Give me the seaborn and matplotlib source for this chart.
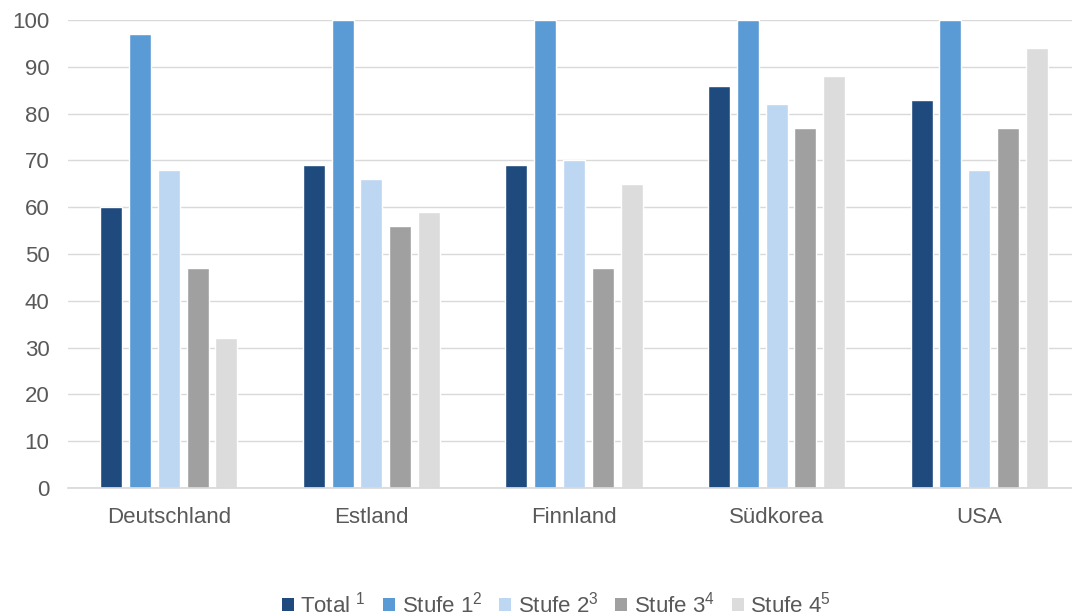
import matplotlib
matplotlib.use("Agg")
import matplotlib.pyplot as plt
import seaborn as sns
import pandas as pd

countries = ["Deutschland", "Estland", "Finnland", "Südkorea", "USA"]
series = ["Total", "Stufe 1", "Stufe 2", "Stufe 3", "Stufe 4"]
legend_labels = ["Total $^{1}$", "Stufe 1$^{2}$", "Stufe 2$^{3}$", "Stufe 3$^{4}$", "Stufe 4$^{5}$"]
total = [60, 69, 69, 86, 83]
stufe1 = [97, 100, 100, 100, 100]
stufe2 = [68, 66, 70, 82, 68]
stufe3 = [47, 56, 47, 77, 77]
stufe4 = [32, 59, 65, 88, 94]
colors = ["#1F4A7D", "#5B9BD5", "#BDD6F2", "#A0A0A0", "#DCDCDC"]

rows = []
for s, vals in zip(series, [total, stufe1, stufe2, stufe3, stufe4]):
    for c, v in zip(countries, vals):
        rows.append({"Land": c, "Serie": s, "Wert": v})
df = pd.DataFrame(rows)

sns.set_theme(style="white")
plt.rcParams["font.family"] = ["Liberation Sans", "DejaVu Sans"]
plt.rcParams["mathtext.fontset"] = "custom"
plt.rcParams["mathtext.rm"] = "Liberation Sans"
plt.rcParams["mathtext.it"] = "Liberation Sans"

fig = plt.figure(figsize=(10.72, 6.16), dpi=100)
ax = fig.add_axes([67.5/1072, 1-488/616, 1013/1072, (488-20)/616])
sns.barplot(data=df, x="Land", y="Wert", hue="Serie", palette=colors,
            width=0.71, gap=0.235, ax=ax, legend=False, saturation=1)
ax.set_ylim(0, 100)
ax.set_yticks(range(0, 101, 10))
ax.set_xlim(-0.5, 4.5)
ax.yaxis.grid(True, color="#D9D9D9", linewidth=1)
ax.set_axisbelow(True)
for sp in ["top", "right", "left"]:
    ax.spines[sp].set_visible(False)
ax.spines["bottom"].set_color("#D9D9D9")
ax.tick_params(axis="both", length=0, labelsize=16, labelcolor="#595959")
ax.tick_params(axis="x", pad=14)
ax.tick_params(axis="y", pad=13)
ax.set_xlabel("")
ax.set_ylabel("")

from matplotlib.patches import Patch
handles = [Patch(facecolor=c, edgecolor="none") for c in colors]
fig.legend(handles, legend_labels, loc="lower center", bbox_to_anchor=(0.519, -0.035),
           ncol=5, frameon=False, fontsize=16, labelcolor="#595959",
           handlelength=0.55, handleheight=0.55, handletextpad=0.3, columnspacing=0.75)

fig.savefig("out.png", dpi=100)
